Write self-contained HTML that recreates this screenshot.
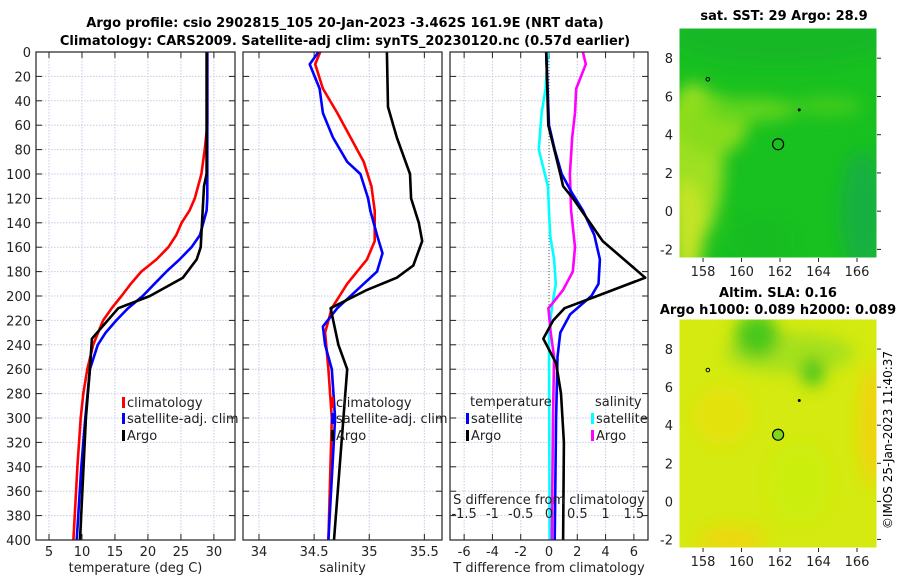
<!DOCTYPE html>
<html><head><meta charset="utf-8"><style>
body{margin:0;background:#fff;}
svg{display:block;font-family:"DejaVu Sans","Liberation Sans",sans-serif;}
</style></head><body>
<svg id="fig" width="900" height="580" viewBox="0 0 900 580">
<defs>
<filter id="blur" x="-50%" y="-50%" width="200%" height="200%"><feGaussianBlur stdDeviation="8"/></filter>
<clipPath id="c1"><rect x="679" y="28" width="198" height="230"/></clipPath>
<clipPath id="c2"><rect x="679" y="319" width="198" height="229"/></clipPath>
</defs>
<text x="345" y="27" text-anchor="middle" font-size="13" font-weight="bold">Argo profile: csio 2902815_105 20-Jan-2023 -3.462S 161.9E (NRT data)</text>
<text x="345" y="45" text-anchor="middle" font-size="13" font-weight="bold">Climatology: CARS2009. Satellite-adj clim: synTS_20230120.nc (0.57d earlier)</text>
<g id="plots"></g>
<g id="maps"></g>
<text transform="translate(892,440) rotate(-90)" text-anchor="middle" font-size="12">©IMOS 25-Jan-2023 11:40:37</text>
</svg>
<script>
// ---- data ----
const tDepth = [0,60,80,100,120,130,140,150,160,170,180,190,200,210,220,240,260,280,300,340,400];
const tClim  = [29,29,28.6,28.1,27.1,26.3,25.1,24.3,23.1,21.3,19.0,17.4,16.0,14.5,13.2,11.7,10.8,10.2,9.8,9.3,8.7];
const sbDepth = [0,120,130,150,160,170,180,190,200,210,220,230,240,260,300,340,400];
const tSat   = [29,29,28.9,27.9,26.6,24.8,22.8,21.0,19.2,17.0,15.2,13.6,12.4,11.2,10.5,9.9,9.2];
const taDepth = [0,100,110,140,160,170,185,200,210,235,260,300,400];
const tArgo  = [28.9,28.9,28.5,28.2,28.0,27.4,25.3,20.3,15.5,11.5,11.2,10.6,9.7];

const sDepth = [0,10,30,50,70,90,110,130,155,170,190,210,230,260,300,400];
const sClim  = [34.555,34.51,34.58,34.71,34.83,34.95,35.02,35.05,35.05,34.98,34.8,34.66,34.6,34.63,34.66,34.63];
const ssDepth = [0,10,30,50,70,90,100,120,130,150,165,180,195,210,225,240,260,300,400];
const sSat   = [34.54,34.46,34.55,34.58,34.67,34.8,34.92,34.99,35.01,35.07,35.12,35.07,34.89,34.71,34.58,34.6,34.66,34.69,34.63];
const saDepth = [0,45,70,100,120,140,155,175,185,195,210,240,260,400];
const sArgo  = [35.16,35.17,35.25,35.37,35.38,35.45,35.48,35.4,35.25,34.98,34.65,34.72,34.8,34.68];

const dtsDepth = [0,60,80,100,115,130,150,170,190,200,215,230,250,300,400];
const dTSat  = [-0.2,0,0.4,0.9,1.6,2.4,3.2,3.6,3.5,3.0,1.5,0.8,0.6,0.5,0.4];
const dtaDepth = [0,60,100,110,120,140,155,185,200,210,220,235,255,280,320,400];
const dTArgo = [-0.2,-0.05,0.8,1.0,1.7,2.9,3.8,6.8,3.4,1.1,0.3,-0.4,0.5,0.85,1.05,1.0];
const dssDepth = [0,30,50,80,110,150,170,190,210,230,400];
const dSSat  = [-0.02,-0.06,-0.13,-0.18,-0.02,0.02,0.09,0.12,0.05,0,0.01];
const dsaDepth = [0,10,30,50,70,100,130,160,180,195,205,210,230,250,300,400];
const dSArgo = [0.6,0.65,0.48,0.46,0.41,0.37,0.39,0.46,0.42,0.25,0.08,-0.01,0.03,0.09,0.07,0.05];

const depthTicks = [0,20,40,60,80,100,120,140,160,180,200,220,240,260,280,300,320,340,360,380,400];
const tTicks = [5,10,15,20,25,30];
const sTicks = [34,34.5,35,35.5];
const dtTicks = [-6,-4,-2,0,2,4,6];
const dsTicks = [-1.5,-1,-0.5,0,0.5,1,1.5];
const dsTickLabels = ["-1.5","-1","-0.5","0","0.5","1","1.5"];
const lonTicks = [158,160,162,164,166];
const latTicks = [-2,0,2,4,6,8];

const NS="http://www.w3.org/2000/svg";
function mk(tag,attrs,parent){const e=document.createElementNS(NS,tag);for(const k in attrs)e.setAttribute(k,attrs[k]);parent.appendChild(e);return e;}
const plots=document.getElementById('plots');
const Y0=52,Y1=540;
const yD=d=>Y0+(Y1-Y0)*d/400;

function panel(name,x0,x1,xmin,xmax,ticks,labels,xlabel){
  const g=mk('g',{},plots);
  
  
  const xs=v=>x0+(x1-x0)*(v-xmin)/(xmax-xmin);
  depthTicks.forEach(d=>{
    const l=mk('line',{x1:x0,x2:x1,y1:yD(d),y2:yD(d),stroke:'#c4cbe6','stroke-width':1,'stroke-dasharray':'1.5,1.5'},g);
    
    
    mk('line',{x1:x0,x2:x0+6,y1:yD(d),y2:yD(d),stroke:'#222'},g);
    mk('line',{x1:x1-6,x2:x1,y1:yD(d),y2:yD(d),stroke:'#222'},g);
  });
  ticks.forEach((v,i)=>{
    const x=xs(v);
    const l=mk('line',{x1:x,x2:x,y1:Y0,y2:Y1,stroke:'#c4cbe6','stroke-width':1,'stroke-dasharray':'1.5,1.5'},g);
    
    
    mk('line',{x1:x,x2:x,y1:Y1,y2:Y1-6,stroke:'#222'},g);
    mk('line',{x1:x,x2:x,y1:Y0,y2:Y0+6,stroke:'#222'},g);
    const t=mk('text',{x:x,y:556,'text-anchor':'middle','font-size':13,fill:'#222'},g);
    t.textContent=labels[i];
    
    
  });
  const xl=mk('text',{x:(x0+x1)/2,y:572,'text-anchor':'middle','font-size':13,fill:'#222'},g);
  xl.textContent=xlabel;
  
  
  return {g,xs};
}
function line(p,depths,vals,color,name){
  const pts=depths.map((d,i)=>p.xs(vals[i]).toFixed(1)+','+yD(d).toFixed(1)).join(' ');
  const pl=mk('polyline',{points:pts,fill:'none',stroke:color,'stroke-width':2.6,'stroke-linejoin':'round'},p.g);
  
  
}
function frame(p,x0,x1){const r=mk('rect',{x:x0,y:Y0,width:x1-x0,height:Y1-Y0,fill:'none',stroke:'#222','stroke-width':1.2},p.g);
  
  }
function leg(p,x,y,color,label){
  mk('rect',{x:x,y:y-10,width:3,height:11,fill:color},p.g);
  const t=mk('text',{x:x+5,y:y,'font-size':13,fill:'#222'},p.g);t.textContent=label;
  
  
}

depthTicks.forEach(d=>{const t=mk('text',{x:31,y:yD(d)+5,'text-anchor':'end','font-size':13,fill:'#222'},plots);t.textContent=d;
  
  });

const p1=panel('temperature-panel',36,235,3.03,33.2,tTicks,tTicks.map(String),'temperature (deg C)');
line(p1,tDepth,tClim,'#f00','temp-climatology-line');
line(p1,sbDepth,tSat,'#00f','temp-satellite-line');
line(p1,taDepth,tArgo,'#000','temp-argo-line');
frame(p1,36,235);
leg(p1,122,407,'#f00','climatology');leg(p1,122,423,'#00f','satellite-adj. clim');leg(p1,122,440,'#000','Argo');

const p2=panel('salinity-panel',243,442,33.855,35.66,sTicks,sTicks.map(String),'salinity');
line(p2,sDepth,sClim,'#f00','sal-climatology-line');
line(p2,ssDepth,sSat,'#00f','sal-satellite-line');
line(p2,saDepth,sArgo,'#000','sal-argo-line');
frame(p2,243,442);
leg(p2,331,407,'#f00','climatology');leg(p2,331,423,'#00f','satellite-adj. clim');leg(p2,331,440,'#000','Argo');

const p3=panel('difference-panel',450,648,-7,7,dtTicks,dtTicks.map(String),'T difference from climatology');
const z=p3.xs(0);
mk('line',{x1:z,x2:z,y1:Y0,y2:Y1,stroke:'#555','stroke-dasharray':'1,2'},p3.g);
const xsS=v=>p3.xs(v*4);
line(p3,dssDepth,dSSat.map(v=>v*4),'#0ff','sal-diff-satellite-line');
line(p3,dsaDepth,dSArgo.map(v=>v*4),'#f0f','sal-diff-argo-line');
line(p3,dtsDepth,dTSat,'#00f','temp-diff-satellite-line');
line(p3,dtaDepth,dTArgo,'#000','temp-diff-argo-line');
frame(p3,450,648);
dsTicks.forEach((v,i)=>{const t=mk('text',{x:xsS(v),y:518,'text-anchor':'middle','font-size':13,fill:'#222'},p3.g);t.textContent=dsTickLabels[i];
  
  });
const st=mk('text',{x:549,y:504,'text-anchor':'middle','font-size':13,fill:'#222'},p3.g);st.textContent='S difference from climatology';


const lt=mk('text',{x:470,y:406,'font-size':13,fill:'#222'},p3.g);lt.textContent='temperature';


const ls=mk('text',{x:595,y:406,'font-size':13,fill:'#222'},p3.g);ls.textContent='salinity';


leg(p3,466,423,'#00f','satellite');leg(p3,466,440,'#000','Argo');
leg(p3,591,423,'#0ff','satellite');leg(p3,591,440,'#f0f','Argo');

const maps=document.getElementById('maps');
const MX0=679,MX1=877,LON0=156.75,LON1=167.04,LAT0=9.58,LAT1=-2.45;
function map(name,y0,y1,bg,blobs,circleFill,titleLines){
  const g=mk('g',{},maps);
  
  
  const lx=v=>MX0+(MX1-MX0)*(v-LON0)/(LON1-LON0);
  const ly=v=>y0+(y1-y0)*(v-LAT0)/(LAT1-LAT0);
  const inner=mk('g',{'clip-path':'url(#'+(name==='sst-map'?'c1':'c2')+')'},g);
  mk('rect',{x:MX0,y:y0,width:MX1-MX0,height:y1-y0,fill:bg},inner);
  const bl=mk('g',{filter:'url(#blur)'},inner);
  blobs.forEach(b=>mk('ellipse',{cx:lx(b[0]),cy:ly(b[1]),rx:b[2],ry:b[3],fill:b[4]},bl));
  mk('circle',{cx:lx(161.9),cy:ly(3.5),r:5.5,fill:circleFill,stroke:'#000','stroke-width':1.2},g);
  mk('circle',{cx:lx(158.25),cy:ly(6.9),r:1.8,fill:'none',stroke:'#000'},g);
  mk('circle',{cx:lx(163),cy:ly(5.3),r:1.5,fill:'#000'},g);
  mk('rect',{x:MX0,y:y0,width:MX1-MX0,height:y1-y0,fill:'none',stroke:'#fff','stroke-width':1},g);
  lonTicks.forEach(v=>{mk('line',{x1:lx(v),x2:lx(v),y1:y1,y2:y1+4,stroke:'#222'},g);
    const t=mk('text',{x:lx(v),y:y1+18,'text-anchor':'middle','font-size':13,fill:'#222'},g);t.textContent=v;
    
    });
  latTicks.forEach(v=>{mk('line',{x1:MX1,x2:MX1+4,y1:ly(v),y2:ly(v),stroke:'#222'},g);
    const t=mk('text',{x:673,y:ly(v)+5,'text-anchor':'end','font-size':13,fill:'#222'},g);t.textContent=v;
    
    });
  titleLines.forEach(tl=>{const t=mk('text',{x:tl[0],y:tl[1],'text-anchor':'middle','font-size':13,'font-weight':'bold',fill:'#000'},g);t.textContent=tl[2];
    
    });
}
map('sst-map',28,258,'#18c020',[
  [162,9.2,110,28,'#14b828'],
  [157.5,2.5,30,80,'#9ee020'],
  [157.2,-1,16,50,'#c6e428'],
  [158.5,4.5,35,30,'#88dc1e'],
  [160.5,5.3,45,12,'#60d41e'],
  [164.5,5.5,35,10,'#40cc1e'],
  [166.3,0,22,60,'#12b040'],
  [161,-1.5,30,20,'#16bc22']
],'none',[[784,20,'sat. SST: 29 Argo: 28.9']]);
map('sla-map',319,548,'#d4ea10',[
  [162.5,7.8,65,20,'#a6e01a'],
  [160.8,8.7,22,22,'#48c81e'],
  [163.7,6.8,12,14,'#44c41e'],
  [166.8,4,14,60,'#f0d40a'],
  [159,4.5,30,30,'#e4e20a'],
  [159.5,-2,35,14,'#ecd80a'],
  [163,1,30,40,'#ccee0e']
],'#7ed81a',[[778,297,'Altim. SLA: 0.16'],[778,314,'Argo h1000: 0.089 h2000: 0.089']]);
</script>
</body></html>
